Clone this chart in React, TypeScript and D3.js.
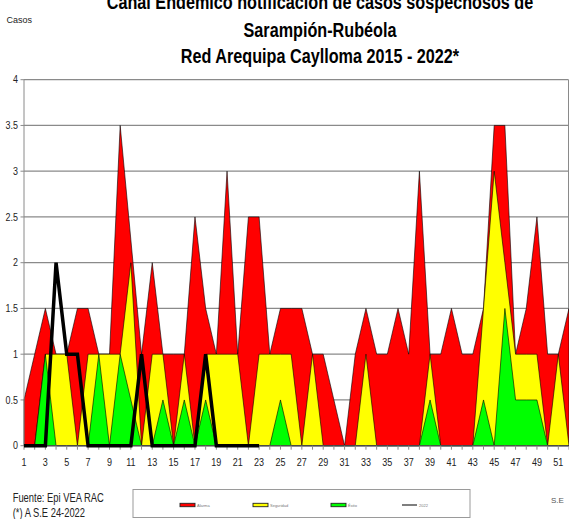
import * as d3 from "d3";

const WIDTH = 569;
const HEIGHT = 519;

// Semanas epidemiológicas
const semanas = d3.range(1, 53);

// Canal endémico (cuartiles 2015-2021)
const alarma = [
  0.5, 1, 1.5, 1, 1, 1.5, 1.5, 1, 1, 3.5, 2.25, 1, 2, 1, 1, 1, 2.5, 1.5, 1, 3, 1, 2.5, 2.5, 1, 1.5, 1.5,
  1.5, 1, 1, 0.5, 0, 1, 1.5, 1, 1, 1.5, 1, 3, 1, 1, 1.5, 1, 1, 1.5, 3.5, 3.5, 1, 1.5, 2.5, 1, 1, 1.5,
];
const seguridad = [
  0, 0, 1, 1, 1, 0, 1, 1, 1, 1, 2, 0, 1, 1, 0, 1, 0, 1, 1, 1, 1, 0, 1, 1, 1, 1,
  0, 1, 0, 0, 0, 0, 1, 0, 0, 0, 0, 0, 1, 0, 0, 0, 0, 1.5, 3, 2, 1, 1, 1, 0, 1, 0,
];
const exito = [
  0, 0, 1, 0, 0, 0, 0, 1, 0, 1, 0.5, 0, 0, 0.5, 0, 0.5, 0, 0.5, 0, 0, 0, 0, 0, 0, 0.5, 0,
  0, 0, 0, 0, 0, 0, 0, 0, 0, 0, 0, 0, 0.5, 0, 0, 0, 0, 0.5, 0, 1.5, 0.5, 0.5, 0.5, 0, 0, 0,
];
// Casos 2022 (hasta S.E 23)
const casos2022 = [0, 0, 0, 2, 1, 1, 0, 0, 0, 0, 0, 1, 0, 0, 0, 0, 0, 1, 0, 0, 0, 0, 0];

const series = [
  { name: "Alarma", values: alarma, color: "#ff0000" },
  { name: "Seguridad", values: seguridad, color: "#ffff00" },
  { name: "Éxito", values: exito, color: "#00ff00" },
];

const titleLines = [
  "Canal Endémico notificación de casos sospechosos de",
  "Sarampión-Rubéola",
  "Red Arequipa Caylloma 2015 - 2022*",
];

const FONT = "'Liberation Sans', Arial, Helvetica, sans-serif";
const GRID = "#8a8a8a";

const App = () => {
  const x = d3.scaleLinear().domain([1, 52]).range([24, 569]);
  const y = d3.scaleLinear().domain([0, 4]).range([445.7, 79.7]);

  const areaOf = d3
    .area<number>()
    .x((_, i) => x(semanas[i]))
    .y0(y(0))
    .y1((d) => y(d));

  const lineOf = d3
    .line<number>()
    .x((_, i) => x(semanas[i]))
    .y((d) => y(d));

  const yTicks = y.ticks(8);
  const xLabels = semanas.filter((w) => w % 2 === 1);

  const legendItems = [
    { name: "Alarma", color: "#ff0000", x: 180 },
    { name: "Seguridad", color: "#ffff00", x: 253 },
    { name: "Éxito", color: "#00ff00", x: 331 },
  ];

  return (
    <svg
      width={WIDTH}
      height={HEIGHT}
      style={{ position: "absolute", left: 0, top: 0, background: "#fff" }}
      fontFamily={FONT}
    >
      {/* title */}
      {titleLines.map((t, i) => (
        <text
          key={t}
          transform={`translate(320,${[9, 36.5, 63][i]}) scale(0.81,1)`}
          textAnchor="middle"
          fontSize={20}
          fontWeight="bold"
          fill="#000"
        >
          {t}
        </text>
      ))}
      <text x={6.5} y={23} fontSize={9} fill="#222">
        Casos
      </text>

      {/* grid */}
      {yTicks.map((t) => (
        <g key={t}>
          {t > 0 && (
            <line x1={x(1)} x2={568.5} y1={y(t)} y2={y(t)} stroke={GRID} strokeWidth={1.3} />
          )}
          <line x1={20.5} x2={x(1)} y1={y(t)} y2={y(t)} stroke={GRID} strokeWidth={1} />
          <text
            transform={`translate(18,${y(t) + 3.7}) scale(0.85,1)`}
            textAnchor="end"
            fontSize={10.5}
            fill="#222"
          >
            {String(t)}
          </text>
        </g>
      ))}
      <line x1={568.5} x2={568.5} y1={y(4)} y2={y(0)} stroke={GRID} strokeWidth={1} />

      {/* canal endémico */}
      {series.map((s) => (
        <path
          key={s.name}
          d={areaOf(s.values) || ""}
          fill={s.color}
          stroke="#000"
          strokeWidth={0.6}
          strokeLinejoin="miter"
        />
      ))}

      {/* axes */}
      <line x1={x(1)} x2={x(1)} y1={y(4)} y2={y(0)} stroke={GRID} strokeWidth={1} />
      <line x1={x(1)} x2={568.5} y1={y(0)} y2={y(0)} stroke="#555" strokeWidth={1} />
      {semanas.map((w) => (
        <line key={w} x1={x(w)} x2={x(w)} y1={y(0)} y2={y(0) + 4} stroke={GRID} strokeWidth={1} />
      ))}
      {xLabels.map((w) => (
        <text
          key={w}
          transform={`translate(${x(w)},466) scale(0.82,1)`}
          textAnchor="middle"
          fontSize={11}
          fill="#222"
        >
          {w}
        </text>
      ))}

      {/* 2022 */}
      <path
        d={lineOf(casos2022) || ""}
        fill="none"
        stroke="#000"
        strokeWidth={3.5}
        strokeLinejoin="miter"
      />

      {/* footer */}
      <text transform="translate(12.7,502) scale(0.75,1)" fontSize={12.5} fill="#222">
        Fuente: Epi VEA RAC
      </text>
      <text transform="translate(12.7,517) scale(0.75,1)" fontSize={12.5} fill="#222">
        (*) A S.E 24-2022
      </text>
      <text x={551} y={503} fontSize={8} fill="#555">
        S.E
      </text>

      {/* legend */}
      <rect x={133} y={489.5} width={337} height={28} fill="#fff" stroke="#9a9a9a" strokeWidth={1} />
      {legendItems.map((it) => (
        <g key={it.name}>
          <rect x={it.x} y={503.3} width={15} height={3.4} fill={it.color} stroke="#222" strokeWidth={0.9} />
          <text x={it.x + 17} y={506.5} fontSize={4} fill="#777">
            {it.name}
          </text>
        </g>
      ))}
      <line x1={402} x2={417} y1={505} y2={505} stroke="#555" strokeWidth={1.5} />
      <text x={419} y={506.5} fontSize={4} fill="#777">
        2022
      </text>
    </svg>
  );
};

export default App;
